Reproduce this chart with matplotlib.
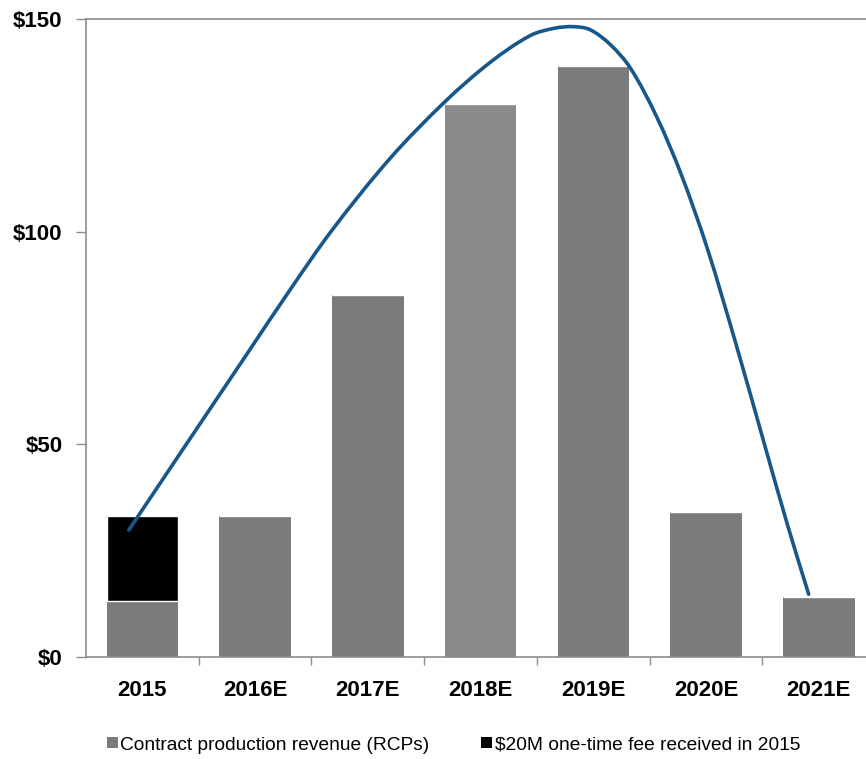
import numpy as np
import matplotlib.pyplot as plt
from matplotlib.patches import Patch, PathPatch
from matplotlib.path import Path

years = ['2015', '2016E', '2017E', '2018E', '2019E', '2020E', '2021E']
rcp_revenue = [13, 33, 85, 130, 139, 34, 14]
one_time_fee = [20, 0, 0, 0, 0, 0, 0]

# hand-drawn trend arc over the bars (x in category units, y in $M)
arc_x = [-0.12, 0.38, 0.91, 1.31, 1.69, 2.20, 2.69, 3.09, 3.44, 3.65, 3.82,
         3.97, 4.15, 4.33, 4.56, 4.78, 5.01, 5.27, 5.51, 5.72, 5.91]
arc_y = [29.8, 49.6, 70.5, 86.3, 100.6, 117.3, 130.7, 139.9, 146.1, 147.8, 148.2,
         147.5, 144.0, 138.4, 127.1, 113.4, 96.1, 73.1, 50.7, 31.2, 14.7]

y_ticks = [0, 50, 100, 150]
y_labels = ['$0', '$50', '$100', '$150']

GREY = '#7b7b7d'
GREY_LIGHT = '#8a8a8a'
AXIS = '#8c8c8c'
BLUE = '#18578a'


def smooth_path(xs, ys, sx, sy):
    # chord-length cubic spline through the points, measured in screen-like units
    pts = np.column_stack([xs, ys]) * [sx, sy]
    n = len(pts)
    d = np.hypot(*np.diff(pts, axis=0).T)
    tang = np.zeros_like(pts)
    tang[0] = (pts[1] - pts[0]) / d[0]
    tang[-1] = (pts[-1] - pts[-2]) / d[-1]
    for i in range(1, n - 1):
        tang[i] = (pts[i + 1] - pts[i - 1]) / (d[i - 1] + d[i])
    verts = [pts[0]]
    codes = [Path.MOVETO]
    for i in range(n - 1):
        verts += [pts[i] + tang[i] * d[i] / 3,
                  pts[i + 1] - tang[i + 1] * d[i] / 3,
                  pts[i + 1]]
        codes += [Path.CURVE4] * 3
    return Path(np.array(verts) / [sx, sy], codes)


plt.rcParams['font.family'] = ['Liberation Sans', 'DejaVu Sans']

fig = plt.figure(figsize=(8.66, 7.59), dpi=100)
ax = fig.add_axes([86 / 866, 1 - 656.7 / 759, 1 - 86 / 866, (656.7 - 19) / 759])

x = np.arange(len(years))
colors = [GREY_LIGHT if y == '2018E' else GREY for y in years]
ax.bar(x, rcp_revenue, width=0.635, color=colors, linewidth=0, zorder=2)
ax.bar(x, one_time_fee, width=0.635, bottom=rcp_revenue, color='black',
       edgecolor='white', linewidth=1.0, zorder=2)

ax.set_xlim(-0.5, (866 - 142) / 112.8)
ax.set_ylim(0, 150)

arc = PathPatch(smooth_path(arc_x, arc_y, 112.8, 4.251), facecolor='none',
                edgecolor=BLUE, lw=2.6, capstyle='round', joinstyle='round', zorder=3)
ax.add_patch(arc)

ax.set_yticks(y_ticks)
ax.set_yticklabels(y_labels, fontsize=16, fontweight='bold')
ax.tick_params(axis='y', direction='out', length=7, width=1, color=AXIS, pad=10)

ax.set_xticks(x)
ax.set_xticklabels(years, fontsize=16, fontweight='bold')
ax.set_xticks(x[:-1] + 0.5, minor=True)
ax.tick_params(axis='x', which='major', length=0, pad=17)
ax.tick_params(axis='x', which='minor', direction='out', length=6, width=1, color=AXIS)

for side in ['left', 'bottom', 'top']:
    ax.spines[side].set_color(AXIS)
    ax.spines[side].set_linewidth(1.2)
ax.spines['right'].set_visible(False)

handles = [Patch(facecolor=GREY, edgecolor='none'),
           Patch(facecolor='black', edgecolor='none')]
fig.legend(handles, ['Contract production revenue (RCPs)',
                     '$20M one-time fee received in 2015'],
           loc='center left', bbox_to_anchor=(107 / 866, 1 - 745 / 759),
           ncol=2, frameon=False, fontsize=13.8, handlelength=0.55,
           handleheight=0.55, handletextpad=0.15, columnspacing=2.7,
           borderpad=0, borderaxespad=0)

fig.savefig('out.png', dpi=100)
